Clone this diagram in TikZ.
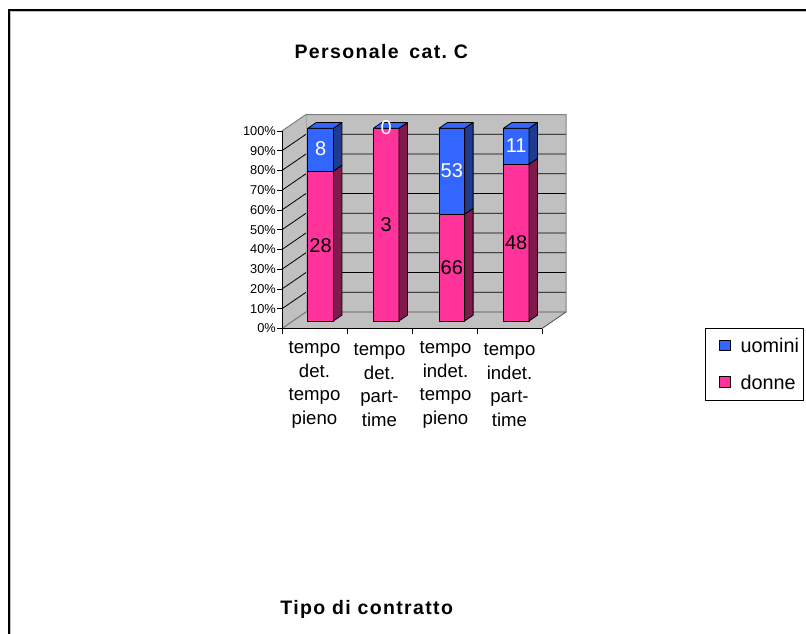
\documentclass[tikz,border=0pt]{standalone}
\usepackage{fontspec}
\setmainfont{Liberation Sans}
\definecolor{pinkf}{HTML}{FF3399}
\definecolor{pinks}{HTML}{801A4D}
\definecolor{bluef}{HTML}{3366FF}
\definecolor{blues}{HTML}{1F3A8F}
\definecolor{wallg}{HTML}{C0C0C0}
\definecolor{edgeg}{HTML}{808080}
\begin{document}
\begin{tikzpicture}[x=1pt,y=-1pt,
  barline/.style={draw=black,line width=0.8pt,line join=round},
  ylab/.style={anchor=east,inner sep=0pt,font=\fontsize{12.8}{14}\selectfont},
  catlab/.style={align=center,inner sep=0pt,font=\fontsize{18.6}{23.8}\selectfont},
  vallab/.style={inner sep=0pt,font=\fontsize{20}{24}\selectfont},
  leglab/.style={anchor=west,inner sep=0pt,font=\fontsize{19.8}{23}\selectfont},
  titlelab/.style={inner sep=0pt,font=\bfseries\fontsize{19.5}{22}\selectfont\addfontfeature{LetterSpace=7}}]
\useasboundingbox (0,0) rectangle (806,634);
% frame
\draw[edgeg!50,line width=1.2pt] (10.5,634) -- (10.5,11.5) -- (806,11.5);
\draw[line width=1.2pt] (9,634) -- (9,10) -- (806,10);
% walls and floor
\fill[wallg] (282,328.5) -- (306,312) -- (306,114.5) -- (282,130.9) -- cycle;
\fill[wallg] (306,312) -- (566,312) -- (566,114.5) -- (306,114.5) -- cycle;
\fill[wallg] (282,328.5) -- (542,328.5) -- (566,312) -- (306,312) -- cycle;
\foreach \k in {1,...,9}{
  \pgfmathsetmacro\yb{312-19.75*\k}
  \pgfmathsetmacro\yf{328.5-19.76*\k}
  \draw[line width=0.8pt] (282,\yf) -- (306,\yb) -- (566,\yb);
}
\draw[edgeg,line width=1pt] (282,130.9) -- (306,114.5) -- (566,114.5) -- (566,312);
\draw[edgeg!70,line width=0.8pt] (306,114.5) -- (306,312);
\draw[edgeg,line width=1.2pt] (282,328.5) -- (306,312) -- (566,312);
\draw[black!70,line width=0.8pt] (566,312) -- (542,328.5);
% axes
\draw[line width=0.8pt] (282,130.9) -- (282,328.5) -- (542,328.5);
\foreach \k in {0,...,10}{
  \pgfmathsetmacro\yf{328.5-19.76*\k}
  \pgfmathtruncatemacro\v{10*\k}
  \draw[line width=0.8pt] (277,\yf) -- (282,\yf);
  \node[ylab] (y\k) at (276,\yf) {\v\%};
}
\foreach \k in {0,...,4}{
  \draw[line width=0.8pt] (282+65*\k,328.5) -- (282+65*\k,334);
}
% bars
\foreach \x/\d/\u [count=\i] in {307.8/28/8, 373.3/3/0, 439/66/53, 503.4/48/11}{
  \pgfmathsetmacro\yb{321-192.7*\d/(\d+\u)}
  \pgfmathsetmacro\xr{\x+25.6}
  \filldraw[barline,fill=pinkf] (\x,\yb) rectangle (\xr,321);
  \filldraw[barline,fill=pinks] (\xr,321) -- (\xr+8.5,315.2) -- (\xr+8.5,\yb-5.8) -- (\xr,\yb) -- cycle;
  \filldraw[barline,fill=bluef] (\x,128.3) rectangle (\xr,\yb);
  \filldraw[barline,fill=blues] (\xr,\yb) -- (\xr+8.5,\yb-5.8) -- (\xr+8.5,122.5) -- (\xr,128.3) -- cycle;
  \filldraw[barline,fill=bluef] (\x,128.3) -- (\x+8.5,122.5) -- (\xr+8.5,122.5) -- (\xr,128.3) -- cycle;
  \node[vallab,text=black] (d\i) at (\x+12.8,{(\yb+321)/2}) {\d};
  \node[vallab,text=white] (u\i) at (\x+12.8,{(\yb+128.3)/2-1}) {\u};
}
% category labels
\node[catlab] (c1) at (314.5,385) {tempo\\det.\\tempo\\pieno};
\node[catlab] (c2) at (379.5,385) {tempo\\det.\\part-\\time};
\node[catlab] (c3) at (445.5,385) {tempo\\indet.\\tempo\\pieno};
\node[catlab] (c4) at (509.5,385) {tempo\\indet.\\part-\\time};
% legend
\draw[line width=0.7pt] (705,328.3) rectangle (803,400);
\filldraw[barline,fill=bluef] (719.5,340) rectangle (730,350.5);
\node[leglab] (lu) at (740.5,345) {uomini};
\filldraw[barline,fill=pinkf] (719.5,376.7) rectangle (730,387.2);
\node[leglab] (ld) at (740.5,382) {donne};
% titles
\node[titlelab] (title) at (381.3,51.7) {Personale\hspace{0.55em}cat.\ C};
\node[titlelab] (xtitle) at (366.7,609) {Tipo di contratto};
\end{tikzpicture}
\end{document}
